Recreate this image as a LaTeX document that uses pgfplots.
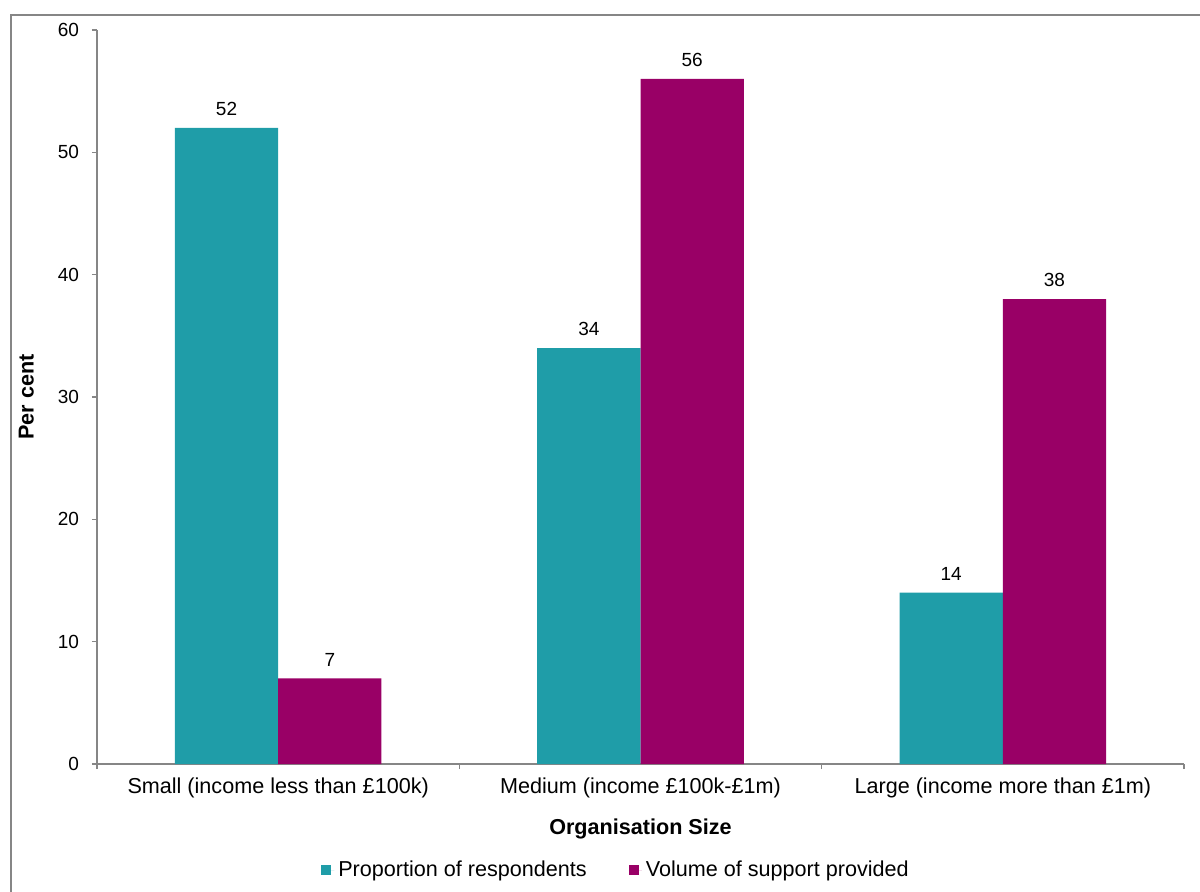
\documentclass[border=0pt]{standalone}
\usepackage{pgfplots}
\pgfplotsset{compat=1.18}
\usepackage{fontspec}
\setmainfont{Liberation Sans}
\definecolor{tealbar}{RGB}{31,157,168}
\definecolor{purplebar}{RGB}{153,0,102}
\definecolor{axgray}{RGB}{134,134,134}
\begin{document}
\begin{tikzpicture}
\useasboundingbox (0pt,0pt) rectangle (600pt,445.5pt);
\draw[axgray, line width=0.9pt] (5.5pt,-5pt) -- (5.5pt,438pt) -- (605pt,438pt);
\begin{axis}[
  at={(48.5pt,63.5pt)}, anchor=south west,
  scale only axis, width=543.5pt, height=367pt,
  xmin=-0.5, xmax=2.5, ymin=0, ymax=60,
  ybar=0pt, bar width=0.285,
  axis x line*=bottom, axis y line*=left,
  axis line style={axgray, line width=0.6pt},
  every tick/.style={axgray, line width=0.6pt},
  tick align=outside, major tick length=2.5pt,
  ytick={0,10,20,30,40,50,60},
  xtick={-0.5,0.5,1.5,2.5}, xticklabels={},
  extra x ticks={0,1,2},
  extra x tick labels={Small (income less than £100k),Medium (income £100k-£1m),Large (income more than £1m)},
  extra x tick style={major tick length=0pt},
  yticklabel style={font=\fontsize{9.5}{11}\selectfont, text=black, xshift=-3pt},
  xticklabel style={font=\fontsize{10.8}{13}\selectfont, text=black, yshift=-3.5pt},
  /pgf/number format/assume math mode=true,
  ylabel={\textbf{Per cent}},
  ylabel style={at={(axis description cs:-0.065,0.5)}, anchor=center, font=\fontsize{10.8}{13}\selectfont},
  xlabel={\textbf{Organisation Size}},
  xlabel style={at={(axis description cs:0.5,-0.0885)}, anchor=center, font=\fontsize{10.8}{13}\selectfont},
  nodes near coords,
  every node near coord/.append style={font=\fontsize{9.5}{11}\selectfont, text=black, yshift=2.5pt},
  legend columns=2,
  legend style={at={(axis description cs:0.4784,-0.1445)}, anchor=center, draw=none, fill=none,
    font=\fontsize{10.8}{13}\selectfont, /tikz/every even column/.append style={column sep=19pt}},
  legend image code/.code={\path (0pt,0pt) -- (6.5pt,0pt); \fill[#1] (0pt,-2.5pt) rectangle (5pt,2.5pt);},
]
\addplot[fill=tealbar, draw=none] coordinates {(0,52) (1,34) (2,14)};
\addplot[fill=purplebar, draw=none] coordinates {(0,7) (1,56) (2,38)};
\legend{Proportion of respondents, Volume of support provided}
\end{axis}
\end{tikzpicture}
\end{document}
